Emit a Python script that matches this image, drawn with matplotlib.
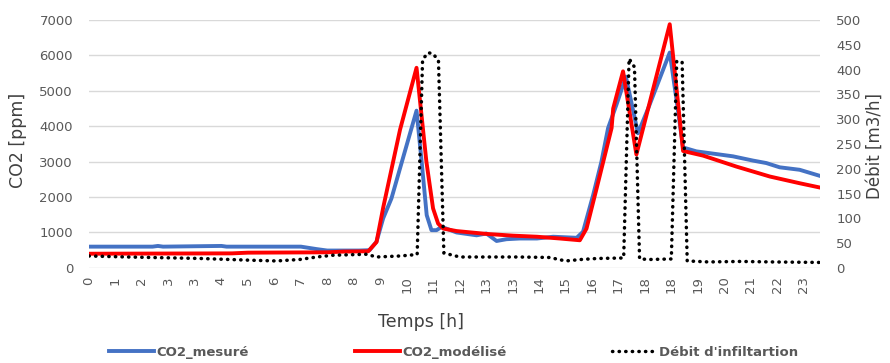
import matplotlib
matplotlib.use("Agg")
import matplotlib.pyplot as plt
from matplotlib.lines import Line2D

plt.rcParams['font.family'] = ['DejaVu Sans']

# ---- data (time in hours) ----
tick_pos = [k * 5 / 6 for k in range(28)]
tick_labels = ["0", "1", "2", "3", "3", "4", "5", "6", "7", "8", "8", "9", "10", "11",
               "12", "13", "13", "14", "15", "16", "17", "18", "18", "19", "20", "21", "22", "23"]

mes_t = [0, 2.0, 2.17, 2.33, 4.17, 4.33, 6.67, 7.17, 7.5, 8.0, 8.5, 8.83, 9.05, 9.26, 9.52,
         9.79, 10.31, 10.47, 10.63, 10.78, 10.94, 11.1, 11.57, 12.2, 12.51, 12.83, 13.14,
         13.56, 14.1, 14.61, 15.35, 15.55, 15.87, 16.13, 16.34, 16.6, 16.9, 17.28, 17.6,
         18.28, 18.5, 18.7, 19.12, 19.86, 20.27, 20.9, 21.32, 21.74, 22.37, 23.0]
mes_v = [600, 600, 620, 600, 620, 600, 600, 530, 490, 490, 490, 500, 740, 1400, 1960,
         2810, 4440, 3010, 1490, 1065, 1065, 1160, 1000, 920, 970, 760, 810,
         830, 830, 880, 850, 1020, 2060, 3000, 3950, 4600, 5400, 3800, 4500,
         6080, 4700, 3400, 3290, 3200, 3150, 3030, 2960, 2840, 2770, 2600]

mod_t = [0, 4.5, 5.0, 7.5, 8.0, 8.79, 9.05, 9.26, 9.79, 10.31, 10.62, 10.83, 10.99, 11.15,
         11.57, 12.5, 13.35, 14.1, 14.82, 15.45, 15.66, 15.98, 16.24, 16.45, 16.5, 16.81,
         17.23, 18.28, 18.5, 18.7, 19.33, 20.38, 21.43, 22.37, 23.0]
mod_v = [400, 410, 430, 440, 460, 470, 730, 1700, 3900, 5650, 3000, 1680, 1250, 1110,
         1040, 960, 910, 880, 830, 780, 1110, 2250, 3190, 3950, 4500, 5550,
         3200, 6880, 5000, 3300, 3170, 2860, 2580, 2390, 2270]

deb_t = [0, 1.2, 3.5, 5.07, 5.9, 6.64, 7.17, 7.68, 8.74, 9.05, 9.79, 10.33, 10.5, 10.67,
         10.83, 11.0, 11.17, 11.67, 12.5, 13.5, 14.5, 15.0, 15.5, 16.0, 16.83, 17.0, 17.17,
         17.33, 17.67, 18.33, 18.5, 18.67, 18.83, 19.5, 20.5, 21.5, 23.0]
deb_v = [24, 22, 19, 15.5, 14, 17, 22, 25.5, 27.5, 22, 24, 27, 420, 434,
         432, 418, 30, 22, 22, 22, 21, 14, 17, 19, 20, 422, 405,
         18, 17, 18, 417, 415, 14, 12, 13, 12, 11]

fig = plt.figure(figsize=(8.9, 3.63), dpi=100)
ax = fig.add_axes([0.1, 0.262, 0.821, 0.683])
ax2 = ax.twinx()

grey = "#595959"
dots = (0, (0.1, 1.8))
ax.plot(mes_t, mes_v, color="#4472C4", lw=2.8, solid_joinstyle="round", zorder=3)
ax.plot(mod_t, mod_v, color="#FF0000", lw=2.8, solid_joinstyle="round", zorder=4)
ax2.plot(deb_t, deb_v, color="black", lw=2.5, linestyle=dots,
         dash_capstyle="round", zorder=5)

ax.set_xlim(0, 23.0)
ax.set_ylim(0, 7000)
ax2.set_ylim(0, 500)
ax.set_yticks(range(0, 7001, 1000))
ax2.set_yticks(range(0, 501, 50))
ax.set_xticks(tick_pos)
ax.set_xticklabels(tick_labels, rotation=90)

ax.grid(axis="y", color="#d9d9d9", lw=1)
ax.set_axisbelow(True)
for a in (ax, ax2):
    for s in a.spines.values():
        s.set_visible(False)
    a.tick_params(length=0, colors=grey, labelsize=9.5)
ax.tick_params(axis="y", pad=11.5)
ax2.tick_params(axis="y", pad=12)
ax.tick_params(axis="x", pad=6)

ax.set_ylabel("CO2 [ppm]", fontsize=12.5, color="#404040")
ax2.set_ylabel("Débit [m3/h]", fontsize=12, color="#404040")
ax.yaxis.set_label_coords(-0.085, 0.516)
ax2.yaxis.set_label_coords(1.063, 0.49)
ax.set_xlabel("Temps [h]", fontsize=12.5, color="#404040")
ax.xaxis.set_label_coords(0.454, -0.18)

handles = [Line2D([], [], color="#4472C4", lw=2.8),
           Line2D([], [], color="#FF0000", lw=2.8),
           Line2D([], [], color="black", lw=2.5, linestyle=dots, dash_capstyle="round")]
labels = ["CO2_mesuré", "CO2_modélisé", "Débit d'infiltartion"]
leg = fig.legend(handles, labels, loc="center", bbox_to_anchor=(0.51, 0.03), ncol=3,
                 frameon=False, handlelength=3.4, columnspacing=8.0, handletextpad=0.2,
                 prop={"size": 9.5, "weight": "bold"})
for t in leg.get_texts():
    t.set_color(grey)

fig.savefig("out.png", dpi=100)
